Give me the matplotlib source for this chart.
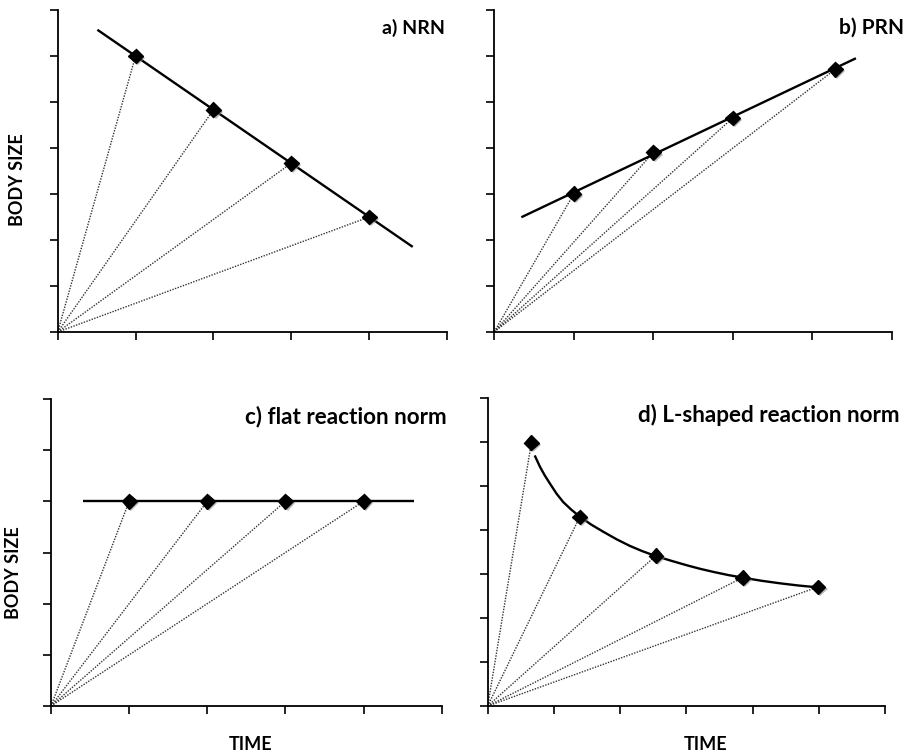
import matplotlib.pyplot as plt
from matplotlib import patheffects as pe

## Data
# a) NRN
nrn_x = [1, 2, 3, 4]
nrn_y = [6.0, 4.83, 3.67, 2.5]
nrn_line_x = [0.51, 4.56]
nrn_line_y = [6.57, 1.85]

# b) PRN
prn_x = [1, 2, 3, 4.29]
prn_y = [3.0, 3.9, 4.65, 5.71]
prn_line_x = [0.34, 4.55]
prn_line_y = [2.49, 5.95]

# c) flat reaction norm
flat_x = [1, 2, 3, 4]
flat_y = [4.0, 4.0, 4.0, 4.0]
flat_line_x = [0.41, 4.64]
flat_line_y = [4.0, 4.0]

# d) L-shaped reaction norm
lsh_x = [0.66, 1.39, 2.54, 3.85, 4.99]
lsh_y = [5.99, 4.30, 3.42, 2.92, 2.71]
lsh_curve_x = [0.71, 0.75, 0.79, 0.86, 0.94, 1.04, 1.14, 1.26, 1.38, 1.56, 1.75,
               1.95, 2.15, 2.34, 2.54, 2.78, 3.01, 3.21, 3.41, 3.63, 3.85, 4.13, 4.42, 4.70, 4.98]
lsh_curve_y = [5.70, 5.57, 5.44, 5.25, 5.06, 4.83, 4.64, 4.47, 4.32, 4.13, 3.96,
               3.79, 3.64, 3.52, 3.41, 3.30, 3.20, 3.12, 3.05, 2.98, 2.92, 2.85, 2.79, 2.74, 2.70]

W, H = 907, 756
fig = plt.figure(figsize=(W / 100, H / 100), dpi=100)
plt.rcParams['font.family'] = ['Lato', 'DejaVu Sans']


def make_axes(left, right, top, bottom, xmax, ymax):
    ax = fig.add_axes([left / W, 1 - bottom / H, (right - left) / W, (bottom - top) / H])
    ax.set_xlim(0, xmax)
    ax.set_ylim(0, ymax)
    ax.set_xticks(range(xmax + 1))
    ax.set_yticks(range(ymax + 1))
    ax.set_xticklabels([])
    ax.set_yticklabels([])
    ax.spines['top'].set_visible(False)
    ax.spines['right'].set_visible(False)
    for s in ('left', 'bottom'):
        ax.spines[s].set_linewidth(1.3)
    ax.tick_params(direction='out', length=6, width=1.2, color='black')
    return ax


def draw_panel(ax, px, py, lx, ly):
    for x, y in zip(px, py):
        ax.plot([0, x], [0, y], color='#333333', lw=1.0, ls=(0, (1, 1)), clip_on=False)
    ax.plot(lx, ly, color='black', lw=1.7, solid_capstyle='butt',
            solid_joinstyle='round', clip_on=False)
    ax.plot(px, py, ls='none', marker='D', ms=7.5, color='black', clip_on=False, zorder=5,
            path_effects=[pe.SimplePatchShadow(offset=(1.5, -1.5), shadow_rgbFace='#888888', alpha=0.6),
                          pe.Normal()])


ax_a = make_axes(57.7, 447, 10, 332, 5, 7)
draw_panel(ax_a, nrn_x, nrn_y, nrn_line_x, nrn_line_y)

ax_b = make_axes(494.3, 891.7, 10, 331.7, 5, 7)
draw_panel(ax_b, prn_x, prn_y, prn_line_x, prn_line_y)

ax_c = make_axes(51, 441.7, 399, 706, 5, 6)
draw_panel(ax_c, flat_x, flat_y, flat_line_x, flat_line_y)

ax_d = make_axes(487.7, 885, 398.3, 706, 6, 7)
draw_panel(ax_d, lsh_x, lsh_y, lsh_curve_x, lsh_curve_y)

# panel titles
title_kw = dict(fontweight='bold', ha='right', va='center')
fig.text(445 / W, 1 - 28 / H, 'a) NRN', fontsize=14, **title_kw)
fig.text(904 / W, 1 - 28 / H, 'b) PRN', fontsize=15, **title_kw)
fig.text(447 / W, 1 - 417 / H, 'c) flat reaction norm', fontsize=16.2, **title_kw)
fig.text(900 / W, 1 - 415 / H, 'd) L-shaped reaction norm', fontsize=16.2, **title_kw)

# axis labels
lab_kw = dict(fontsize=13, fontweight='bold', ha='center', va='center')
fig.text(18 / W, 1 - 180 / H, 'BODY SIZE', rotation=90, **lab_kw)
fig.text(14 / W, 1 - 573 / H, 'BODY SIZE', rotation=90, **lab_kw)
fig.text(251 / W, 1 - 745 / H, 'TIME', **lab_kw)
fig.text(706 / W, 1 - 745 / H, 'TIME', **lab_kw)

fig.savefig('out.png', dpi=100)
